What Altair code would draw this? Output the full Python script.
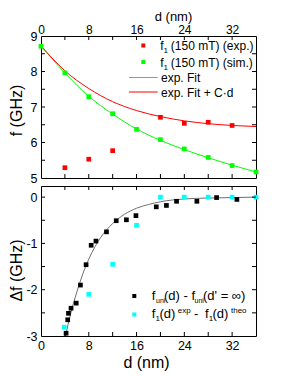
import altair as alt
import pandas as pd

FONT = "Liberation Sans"

# ---------------- data ----------------
d_sim = [0, 4, 8, 12, 16, 20, 24, 28, 32, 36]
f_sim = [8.71, 7.96, 7.29, 6.81, 6.37, 6.08, 5.82, 5.58, 5.35, 5.17]
d_exp = [4, 8, 12, 20, 24, 28, 32]
f_exp = [5.29, 5.53, 5.77, 6.71, 6.54, 6.57, 6.48]
fit_d = [0, 4, 8, 12, 16, 20, 24, 28, 32, 36]
fit_green = [8.72, 7.96, 7.30, 6.80, 6.38, 6.06, 5.80, 5.57, 5.36, 5.17]
fit_red = [8.72, 8.02, 7.52, 7.15, 6.90, 6.73, 6.61, 6.53, 6.48, 6.45]

d_uni = [4.2, 4.47, 4.6, 5.03, 5.9, 6.6, 7.55, 8.4, 9.2, 10.96, 12.6, 14.3,
         15.9, 19.3, 21.0, 22.7, 26.1, 29.4, 32.8]
df_uni = [-2.94, -2.65, -2.51, -2.40, -2.29, -1.90, -1.46, -1.04, -0.95, -0.75,
          -0.51, -0.49, -0.40, -0.21, -0.18, -0.09, -0.09, -0.01, -0.05]
d_diff = [3.9, 8, 12, 16, 20, 24, 28, 32, 36]
df_diff = [-2.81, -2.10, -1.45, -0.61, 0, 0, 0, 0, 0]
curve_d = [4.1, 5, 6, 7, 8, 9, 10, 12, 14, 16, 18, 20, 24, 28, 32, 36]
curve_df = [-3.0, -2.50, -2.05, -1.66, -1.34, -1.08, -0.87, -0.57, -0.37,
            -0.24, -0.16, -0.10, -0.04, -0.02, -0.01, 0.0]

x_labels = [0, 8, 16, 24, 32]
x_ticks = [4, 8, 12, 16, 20, 24, 28, 32]
y1_labels = [5, 6, 7, 8, 9]
y1_ticks = [5.5, 6, 6.5, 7, 7.5, 8, 8.5]
y2_labels = [-3, -2, -1, 0]
y2_ticks = [-2.5, -2, -1.5, -1, -0.5, 0]

x_title = "d (nm)"
y1_title = "f (GHz)"
y2_title = "\u0394f (GHz)"
leg_f = "f"
leg_1 = "1"
leg_exp = "(150 mT) (exp.)"
leg_sim = "(150 mT) (sim.)"
leg_fit = "exp. Fit"
leg_fitc = "exp. Fit + C\u00b7d"
leg_uni = "uni"
leg_a2 = "(d) - f"
leg_a4 = "(d' = \u221e)"
leg_d = "(d)"
leg_sup_exp = "exp"
leg_minus = "-"
leg_sup_theo = "theo"

RED = "#ff0000"
GREEN = "#00ff00"
CYAN = "#00ffff"
GRAY = "#707070"

W, H1, H2 = 215, 142, 150
xs = alt.Scale(domain=[0, 36], nice=False, zero=False)
ys1 = alt.Scale(domain=[5, 9], nice=False, zero=False)
ys2 = alt.Scale(domain=[-3, 0.24], nice=False, zero=False)

one = pd.DataFrame({"a": [0]})


def txt(t, x, y, size=12):
    return alt.Chart(one).mark_text(
        text=t, font=FONT, fontSize=size, align="left", baseline="alphabetic",
        color="black").encode(x=alt.value(x), y=alt.value(y))


def ticks(xvals, yvals, xax, yax, ys, H, L):
    out = []
    dx = pd.DataFrame({"d": xvals})
    bx = alt.Chart(dx).mark_rule(color="black", strokeWidth=1).encode(
        x=alt.X("d:Q", scale=xs, axis=xax))
    out.append(bx.encode(y=alt.value(0), y2=alt.value(L)))
    out.append(bx.encode(y=alt.value(H), y2=alt.value(H - L)))
    dy = pd.DataFrame({"v": yvals})
    by = alt.Chart(dy).mark_rule(color="black", strokeWidth=1).encode(
        y=alt.Y("v:Q", scale=ys, axis=yax))
    out.append(by.encode(x=alt.value(0), x2=alt.value(L)))
    out.append(by.encode(x=alt.value(W), x2=alt.value(W - L)))
    return out


# ---------------- top panel ----------------
top_x_axis = alt.Axis(orient="top", values=x_labels, title=x_title,
                      labelPadding=3, labelBaseline="alphabetic", labelFontSize=12,
                      titleX=132, titleY=-16, titleFontSize=13,
                      titleBaseline="alphabetic", titleAlign="center")
y1_axis = alt.Axis(values=y1_labels, title=y1_title, labelPadding=4,
                   titleX=-25, titleY=74, titleAngle=270,
                   titleBaseline="middle", titleAlign="center")

fit_df = pd.DataFrame({"d": fit_d, "g": fit_green, "r": fit_red})
green_fit = alt.Chart(fit_df).mark_line(color=GREEN, strokeWidth=1, interpolate="monotone").encode(
    x=alt.X("d:Q", scale=xs, axis=top_x_axis),
    y=alt.Y("g:Q", scale=ys1, axis=y1_axis))
red_fit = alt.Chart(fit_df).mark_line(color=RED, strokeWidth=1, interpolate="monotone").encode(
    x=alt.X("d:Q", scale=xs, axis=top_x_axis), y=alt.Y("r:Q", scale=ys1, axis=y1_axis))
sim_pts = alt.Chart(pd.DataFrame({"d": d_sim, "f": f_sim})).mark_square(
    size=22, color=GREEN, opacity=1).encode(
    x=alt.X("d:Q", scale=xs, axis=top_x_axis), y=alt.Y("f:Q", scale=ys1, axis=y1_axis))
exp_pts = alt.Chart(pd.DataFrame({"d": d_exp, "f": f_exp})).mark_square(
    size=22, color=RED, opacity=1).encode(
    x=alt.X("d:Q", scale=xs, axis=top_x_axis), y=alt.Y("f:Q", scale=ys1, axis=y1_axis))

top_leg = [
    alt.Chart(one).mark_square(size=16, color=RED, opacity=1).encode(
        x=alt.value(102.3), y=alt.value(9.5)),
    alt.Chart(one).mark_square(size=16, color=GREEN, opacity=1).encode(
        x=alt.value(102.3), y=alt.value(26)),
    alt.Chart(one).mark_rule(color=GREEN, strokeWidth=1).encode(
        x=alt.value(88), x2=alt.value(116.7), y=alt.value(41.5)),
    alt.Chart(one).mark_rule(color=RED, strokeWidth=1).encode(
        x=alt.value(88), x2=alt.value(116.7), y=alt.value(56)),
    txt(leg_f, 119.3, 14.3), txt(leg_1, 122.6, 17, 8), txt(leg_exp, 129.8, 14.3),
    txt(leg_f, 119.3, 30.8), txt(leg_1, 122.6, 33.5, 8), txt(leg_sim, 129.8, 30.8),
    txt(leg_fit, 120, 46), txt(leg_fitc, 120, 60.5),
]

top = alt.layer(
    green_fit, red_fit, exp_pts, sim_pts,
    *ticks(x_ticks, y1_ticks, top_x_axis, y1_axis, ys1, H1, 4),
    *top_leg,
).properties(width=W, height=H1)

# ---------------- bottom panel ----------------
bot_x_axis = alt.Axis(orient="bottom", values=x_labels, title=x_title,
                      labelPadding=3, titleX=105, titleY=31,
                      titleBaseline="alphabetic", titleAlign="center")
y2_axis = alt.Axis(values=y2_labels, title=y2_title, labelPadding=4,
                   labelExpr="datum.value < 0 ? '-' + abs(datum.value) : '' + datum.value",
                   titleX=-25, titleY=84, titleAngle=270,
                   titleBaseline="middle", titleAlign="center")

curve = alt.Chart(pd.DataFrame({"d": curve_d, "v": curve_df})).mark_line(
    color=GRAY, strokeWidth=1, interpolate="monotone").encode(
    x=alt.X("d:Q", scale=xs, axis=bot_x_axis),
    y=alt.Y("v:Q", scale=ys2, axis=y2_axis))
uni_pts = alt.Chart(pd.DataFrame({"d": d_uni, "v": df_uni})).mark_square(
    size=22, color="black", opacity=1).encode(
    x=alt.X("d:Q", scale=xs, axis=bot_x_axis), y=alt.Y("v:Q", scale=ys2, axis=y2_axis))
diff_pts = alt.Chart(pd.DataFrame({"d": d_diff, "v": df_diff})).mark_square(
    size=22, color=CYAN, opacity=1).encode(
    x=alt.X("d:Q", scale=xs, axis=bot_x_axis), y=alt.Y("v:Q", scale=ys2, axis=y2_axis))

bot_leg = [
    alt.Chart(one).mark_square(size=16, color="black", opacity=1).encode(
        x=alt.value(93.3), y=alt.value(110)),
    alt.Chart(one).mark_square(size=16, color=CYAN, opacity=1).encode(
        x=alt.value(93.3), y=alt.value(128.5)),
    txt(leg_f, 110.7, 113.5, 13), txt(leg_uni, 115, 116.5, 7),
    txt(leg_a2, 123, 113.5, 13), txt(leg_uni, 153.5, 116.5, 7),
    txt(leg_a4, 162, 113.5, 13),
    txt(leg_f, 110.7, 132.3, 13), txt(leg_1, 114.5, 135.3, 8),
    txt(leg_d, 118.5, 132.3, 13), txt(leg_sup_exp, 136.7, 127, 8),
    txt(leg_minus, 153, 132.3, 13), txt(leg_f, 164, 132.3, 13),
    txt(leg_1, 167.7, 135.3, 8), txt(leg_d, 171.5, 132.3, 13),
    txt(leg_sup_theo, 190, 127, 8),
]

bottom = alt.layer(
    curve, diff_pts, uni_pts,
    *ticks(x_ticks, y2_ticks, bot_x_axis, y2_axis, ys2, H2, 4),
    *bot_leg,
).properties(width=W, height=H2)

chart = alt.vconcat(top, bottom, spacing=0).properties(
    padding={"left": -1, "top": 1, "right": 5, "bottom": 2}
).configure_view(
    stroke="black", strokeWidth=1).configure_axis(
    labelFont=FONT, titleFont=FONT, labelFontSize=12.5, titleFontSize=16,
    titleFontWeight="normal", ticks=False, domain=False, grid=False,
    labelColor="black", titleColor="black", labelFlush=False,
)

chart.save("out.html", embed_options={"renderer": "svg", "actions": False})
